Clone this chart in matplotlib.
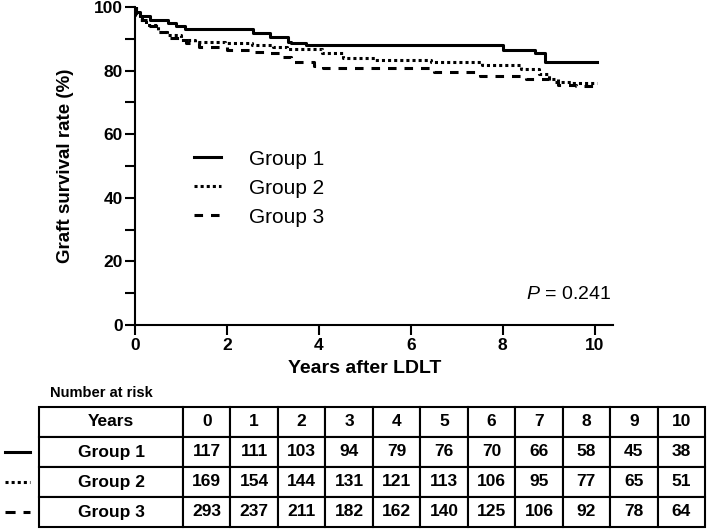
import matplotlib
matplotlib.use("Agg")
import matplotlib.pyplot as plt
from matplotlib.lines import Line2D

plt.rcParams['font.family'] = ['Liberation Sans', 'DejaVu Sans']
plt.rcParams['mathtext.fontset'] = 'custom'
plt.rcParams['mathtext.it'] = 'Liberation Sans:italic'
plt.rcParams['mathtext.rm'] = 'Liberation Sans'

# ---- data ----
g1_t = [0, 0.03, 0.11, 0.33, 0.72, 0.9, 1.09, 2.57, 2.93, 3.33, 3.4, 3.73, 8.0, 8.7, 8.91, 10.05]
g1_s = [100, 98.5, 97.2, 95.9, 94.9, 94.0, 93.0, 91.7, 90.7, 89.1, 88.8, 88.2, 86.5, 85.4, 82.8, 82.8]

g2_t = [0, 0.03, 0.1, 0.25, 0.5, 0.7, 1.0, 1.3, 1.96, 2.55, 3.0, 3.3, 4.06, 4.52, 5.22, 6.45, 7.54, 8.4, 8.8, 9.0, 9.2, 9.5, 10.05]
g2_s = [100, 97.5, 96.0, 94.3, 92.2, 91.2, 89.6, 89.1, 88.6, 88.0, 87.3, 86.7, 85.6, 84.1, 83.3, 82.8, 81.8, 80.5, 79.0, 77.5, 76.5, 76.0, 76.0]

g3_t = [0, 0.03, 0.15, 0.3, 0.5, 0.7, 1.1, 1.4, 2.0, 2.6, 2.9, 3.2, 3.4, 3.9, 4.1, 6.5, 7.5, 8.5, 9.0, 9.2, 9.6, 10.05]
g3_s = [100, 97.9, 96.0, 94.0, 92.0, 90.1, 88.6, 87.5, 86.5, 86.0, 85.4, 84.4, 82.8, 81.3, 80.8, 79.5, 78.3, 77.3, 76.3, 75.6, 75.2, 75.2]

group_labels = ["Group 1", "Group 2", "Group 3"]
years = ["0", "1", "2", "3", "4", "5", "6", "7", "8", "9", "10"]
risk_g1 = [117, 111, 103, 94, 79, 76, 70, 66, 58, 45, 38]
risk_g2 = [169, 154, 144, 131, 121, 113, 106, 95, 77, 65, 51]
risk_g3 = [293, 237, 211, 182, 162, 140, 125, 106, 92, 78, 64]
p_text = "$P$ = 0.241"

styles = ['-', (0, (1, 1)), (0, (2.8, 2.6))]
marker_styles = ['-', (0, (1, 1)), (0, (3.3, 2.6))]

W, H = 709, 532
fig = plt.figure(figsize=(W / 100, H / 100), dpi=100)

ax = fig.add_axes([135 / W, 1 - 325 / H, (613 - 135) / W, (325 - 7) / H])
for t, s, ls, lab in zip([g1_t, g2_t, g3_t], [g1_s, g2_s, g3_s], styles, group_labels):
    ax.step(t, s, where='post', color='black', lw=2.2, linestyle=ls, label=lab)

ax.set_xlim(0, 10.4)
ax.set_ylim(0, 100)
ax.set_xticks([0, 2, 4, 6, 8, 10])
ax.set_yticks([0, 20, 40, 60, 80, 100])
ax.set_yticks([10, 30, 50, 70, 90], minor=True)
for sp in ['top', 'right']:
    ax.spines[sp].set_visible(False)
for sp in ['left', 'bottom']:
    ax.spines[sp].set_linewidth(1.5)
ax.tick_params(axis='both', which='major', length=7, width=1.5, labelsize=12.5, pad=2)
ax.tick_params(axis='y', which='minor', length=7, width=1.5)
for lbl in ax.get_xticklabels() + ax.get_yticklabels():
    lbl.set_fontweight('bold')
ax.set_xlabel("Years after LDLT", fontsize=14, fontweight='bold', labelpad=8)
ax.xaxis.set_label_coords(5 / 10.4, -0.11)
ax.set_ylabel("Graft survival rate (%)", fontsize=13.5, fontweight='bold', labelpad=14)

ax.legend(loc='upper left', bbox_to_anchor=(0.085, 0.61), frameon=False, fontsize=15,
          handlelength=1.3, handletextpad=1.3, labelspacing=0.48)
ax.text(0.995, 0.095, p_text, transform=ax.transAxes, ha='right', va='center', fontsize=14)

fig.text(50 / W, 1 - 393 / H, "Number at risk", fontsize=10.5, fontweight='bold', va='center')

# ---- table ----
tx0, tx1, ty0, ty1 = 39, 705, 407, 527
tax = fig.add_axes([tx0 / W, 1 - ty1 / H, (tx1 - tx0) / W, (ty1 - ty0) / H])
tax.axis('off')
cell_text = [["Years"] + years,
             [group_labels[0]] + [str(v) for v in risk_g1],
             [group_labels[1]] + [str(v) for v in risk_g2],
             [group_labels[2]] + [str(v) for v in risk_g3]]
first_w = 144
num_w = (tx1 - tx0 - first_w) / len(years)
widths = [first_w / (tx1 - tx0)] + [num_w / (tx1 - tx0)] * len(years)
tbl = tax.table(cellText=cell_text, colWidths=widths, cellLoc='center', bbox=[0, 0, 1, 1])
tbl.auto_set_font_size(False)
for (r, c), cell in tbl.get_celld().items():
    cell.set_linewidth(1.5)
    cell.set_edgecolor('black')
    cell.get_text().set_fontsize(12.5)
    cell.get_text().set_fontweight('bold')

# row markers to the left of the table
row_h = (ty1 - ty0) / 4
for i, ls in enumerate(marker_styles):
    yc = 1 - (ty0 + row_h * (i + 1.5)) / H
    fig.add_artist(Line2D([5 / W, 30 / W], [yc, yc], color='black', lw=2.2, linestyle=ls))

fig.savefig("out.png", dpi=100)
